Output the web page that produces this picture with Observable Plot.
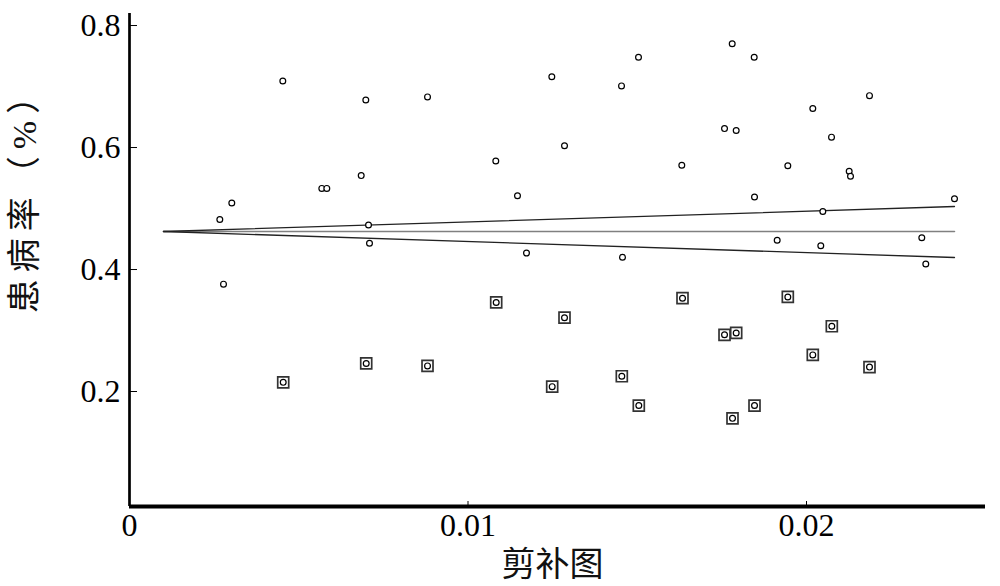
<!DOCTYPE html>
<html><head><meta charset="utf-8">
<script src="https://cdn.jsdelivr.net/npm/d3@7"></script>
<script src="https://cdn.jsdelivr.net/npm/@observablehq/plot@0.6"></script>
<style>body{margin:0;background:#fff;} #chart svg{display:block}</style>
</head><body><div id="chart"></div>
<script>
// Observed studies (standard error, prevalence)
const observedSE = [0.002668,0.002777,0.003022,0.004529,0.005681,0.005829,0.006845,0.006981,0.007061,0.007090,0.008804,
  0.010821,0.011462,0.011728,0.012476,0.012851,0.014535,0.014564,0.015037,0.016316,0.017578,0.017805,0.017923,0.018455,
  0.018464,0.019134,0.019448,0.020186,0.020422,0.020482,0.020739,0.021261,0.021300,0.021861,0.023406,0.023524,0.024372];
const observedRate = [0.482,0.376,0.509,0.709,0.533,0.533,0.554,0.678,0.473,0.443,0.683,
  0.578,0.521,0.427,0.716,0.603,0.701,0.420,0.748,0.571,0.631,0.770,0.628,0.748,
  0.519,0.448,0.570,0.664,0.439,0.495,0.617,0.561,0.553,0.685,0.452,0.409,0.516];
// Filled (imputed) studies
const filledSE = [0.004541,0.006993,0.008804,0.010833,0.012487,0.012851,0.014544,0.015046,0.016337,0.017578,0.017923,
  0.018464,0.019448,0.020186,0.020748,0.021861,0.017814];
const filledRate = [0.215,0.246,0.242,0.346,0.208,0.321,0.225,0.177,0.353,0.293,0.296,
  0.177,0.355,0.260,0.307,0.240,0.156];
// Pseudo confidence funnel
const funnelSE = [0.001004, 0.024372];
const funnelCenter = [0.4623, 0.4623];
const funnelUpper = [0.4623, 0.5033];
const funnelLower = [0.4623, 0.4197];
const xTicks = [0, 0.01, 0.02];
const yTicks = [0.2, 0.4, 0.6, 0.8];
const xLabel = "剪补图";
const yLabel = "患病率（%）";

const observed = observedSE.map((se, i) => ({se, rate: observedRate[i]}));
const filled = filledSE.map((se, i) => ({se, rate: filledRate[i]}));
const toLine = (arr) => funnelSE.map((se, i) => ({se, rate: arr[i]}));

const serif = "'Liberation Serif', 'Times New Roman', serif";
const cjk = "'Liberation Serif', 'Noto Sans CJK SC', sans-serif";
const xMax = 0.025288, yMin = 0.0115, yMax = 0.8197;

const chart = Plot.plot({
  width: 1000, height: 586,
  marginLeft: 129, marginRight: 15, marginTop: 13, marginBottom: 80,
  x: {domain: [0, xMax], label: null},
  y: {domain: [yMin, yMax], label: null},
  style: {fontFamily: serif, background: "white", color: "black"},
  marks: [
    Plot.line(toLine(funnelCenter), {x: "se", y: "rate", stroke: "#808080", strokeWidth: 1.6}),
    Plot.line(toLine(funnelUpper), {x: "se", y: "rate", stroke: "#222", strokeWidth: 1.3}),
    Plot.line(toLine(funnelLower), {x: "se", y: "rate", stroke: "#222", strokeWidth: 1.3}),
    Plot.dot(filled, {x: "se", y: "rate", symbol: "square", r: 6.2, stroke: "#333", strokeWidth: 1.7, fill: "white"}),
    Plot.dot(filled, {x: "se", y: "rate", r: 2.9, stroke: "#000", strokeWidth: 1.2, fill: "white"}),
    Plot.dot(observed, {x: "se", y: "rate", r: 2.9, stroke: "#000", strokeWidth: 1.2, fill: "white"}),
    Plot.ruleX([0], {stroke: "#000", strokeWidth: 2.7}),
    Plot.ruleY([yMin], {stroke: "#000", strokeWidth: 3.8}),
    Plot.axisY(yTicks, {tickSize: -8, tickPadding: 17, fontSize: 32, tickFormat: d => String(d), label: null}),
    Plot.axisX(xTicks, {tickSize: -5, tickPadding: 12, fontSize: 32, tickFormat: d => String(d), label: null}),
    Plot.text([yLabel], {frameAnchor: "left", textAnchor: "middle", lineAnchor: "middle", rotate: -90, dx: -104, dy: -67, fontSize: 34, fontFamily: cjk, fill: "#111"}),
    Plot.text([xLabel], {frameAnchor: "bottom", textAnchor: "middle", lineAnchor: "middle", dx: -5, dy: 59, fontSize: 34, fontFamily: cjk, fill: "#111"})
  ]
});
// widen the rotated y label's spacing like the reference
d3.select(chart).selectAll("text").filter(function() { return this.textContent === yLabel; })
  .style("letter-spacing", "7px");
document.getElementById("chart").appendChild(chart);
</script>
</body></html>
